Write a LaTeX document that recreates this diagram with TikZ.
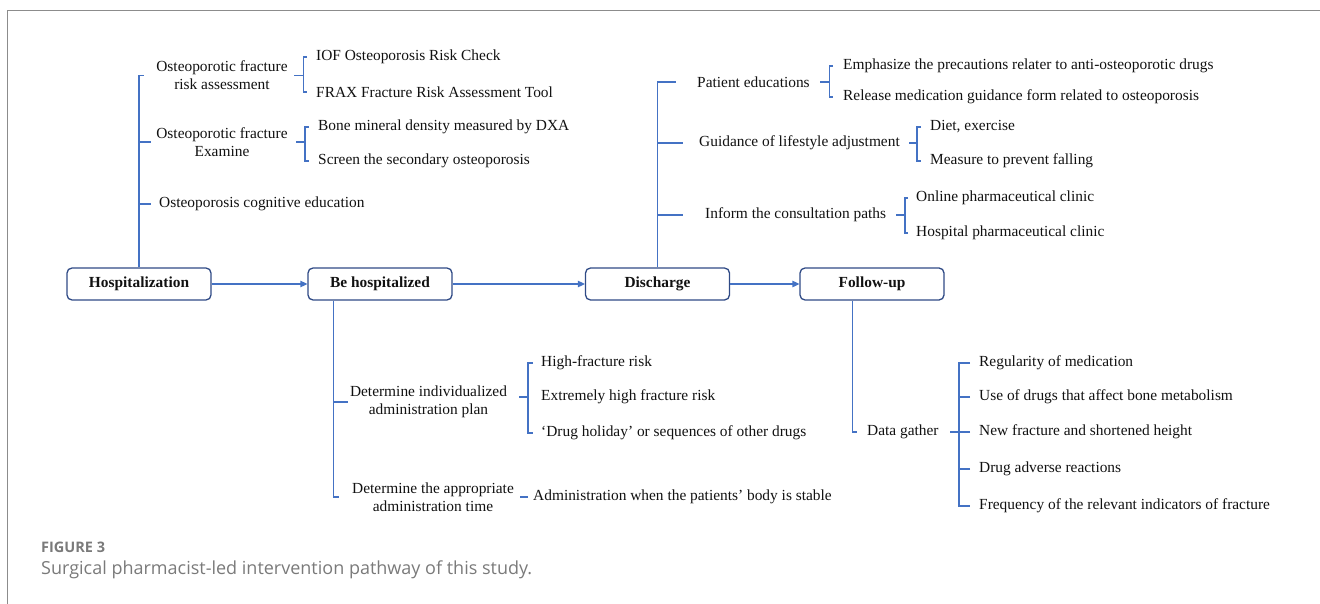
\documentclass[tikz,border=0pt]{standalone}
\usepackage{fontspec}
\setmainfont{Liberation Serif}
\newfontfamily\capfont{Open Sans}
\usetikzlibrary{arrows.meta}
\definecolor{conn}{HTML}{4472C4}
\definecolor{boxc}{HTML}{2F4A85}
\definecolor{framec}{HTML}{8C8C8C}
\definecolor{capc}{HTML}{7A7A7A}
\definecolor{txt}{HTML}{111111}
\begin{document}
\begin{tikzpicture}[x=1pt,y=-1pt,
  every node/.style={font=\fontsize{15.4}{17.8}\selectfont, inner sep=0pt, text=txt},
  stage/.style={draw=boxc, line width=1.3pt, rounded corners=5pt, minimum width=144pt, minimum height=32pt, font=\fontsize{15.4}{17.8}\selectfont\bfseries},
  lbl/.style={anchor=west},
  two/.style={align=center},
  link/.style={draw=conn, line width=1.3pt},
  flow/.style={link, -{Triangle[length=7pt,width=6.5pt]}}
]
\useasboundingbox (0,0) rectangle (1320,604);
\draw[framec, line width=1pt] (7,604) -- (7,11) -- (1320,11);

% stages
\node[stage] (hosp) at (139,284) {Hospitalization};
\node[stage] (beh) at (380,284) {Be hospitalized};
\node[stage] (dis) at (657.5,284) {Discharge};
\node[stage] (fol) at (872,284) {Follow-up};
\draw[flow] (hosp.east) -- (beh.west);
\draw[flow] (beh.east) -- (dis.west);
\draw[flow] (dis.east) -- (fol.west);

% hospitalization branch
\node[two] (h1) at (222,75.5) {Osteoporotic fracture\\risk assessment};
\node[two] (h2) at (222,142) {Osteoporotic fracture\\Examine};
\node[lbl] (h3) at (159,204) {Osteoporosis cognitive education};
\draw[link] (hosp.north) |- ([xshift=-12pt]h1.west);
\draw[link] (hosp.north |- h2.west) -- ([xshift=-5pt]h2.west);
\draw[link] (hosp.north |- h3.west) -- ([xshift=-8pt]h3.west);

\node[lbl] (h11) at (316,57) {IOF Osteoporosis Risk Check};
\node[lbl] (h12) at (316,92) {FRAX Fracture Risk Assessment Tool};
\coordinate (h1x) at ([xshift=-12.5pt]h11.west);
\draw[link] ([xshift=-9pt]h11.west) -- (h11.west -| h1x) |- ([xshift=-9pt]h12.west);
\draw[link] (h1.east -| h1x) -- ++(-9.5,0);

\node[lbl] (h21) at (318,127) {Bone mineral density measured by DXA};
\node[lbl] (h22) at (318,161) {Screen the secondary osteoporosis};
\coordinate (h2x) at ([xshift=-13pt]h21.west);
\draw[link] ([xshift=-9pt]h21.west) -- (h21.west -| h2x) |- ([xshift=-9pt]h22.west);
\draw[link] (h2.east -| h2x) -- ++(-9,0);

% discharge branch
\node[lbl] (d1) at (697,82) {Patient educations};
\node[lbl] (d2) at (699,143) {Guidance of lifestyle adjustment};
\node[lbl] (d3) at (705,215) {Inform the consultation paths};
\draw[link] (dis.north) |- ([xshift=-21pt]d1.west);
\draw[link] (dis.north |- d2.west) -- ([xshift=-16pt]d2.west);
\draw[link] (dis.north |- d3.west) -- ([xshift=-22pt]d3.west);

\node[lbl] (d11) at (843,66) {Emphasize the precautions relater to anti-osteoporotic drugs};
\node[lbl] (d12) at (843,97) {Release medication guidance form related to osteoporosis};
\coordinate (d1x) at ([xshift=-13.5pt]d11.west);
\draw[link] ([xshift=-10pt]d11.west) -- (d11.west -| d1x) |- ([xshift=-10pt]d12.west);
\draw[link] (d1.east -| d1x) -- ++(-10,0);

\node[lbl] (d21) at (930,127) {Diet, exercise};
\node[lbl] (d22) at (930,161) {Measure to prevent falling};
\coordinate (d2x) at ([xshift=-13pt]d21.west);
\draw[link] ([xshift=-9pt]d21.west) -- (d21.west -| d2x) |- ([xshift=-9pt]d22.west);
\draw[link] (d2.east -| d2x) -- ++(-8,0);

\node[lbl] (d31) at (916,198) {Online pharmaceutical clinic};
\node[lbl] (d32) at (916,233) {Hospital pharmaceutical clinic};
\coordinate (d3x) at ([xshift=-11pt]d31.west);
\draw[link] ([xshift=-8pt]d31.west) -- (d31.west -| d3x) |- ([xshift=-8pt]d32.west);
\draw[link] (d3.east -| d3x) -- ++(-9,0);

% be hospitalized branch
\coordinate (bv) at ([xshift=26pt]beh.south west);
\node[two] (b1) at (428.5,402) {Determine individualized\\administration plan};
\node[two] (b2) at (433,497) {Determine the appropriate\\administration time};
\draw[link] (bv) |- ([xshift=-13pt]b2.west);
\draw[link] (bv |- b1.west) -- ([xshift=-2pt]b1.west);

\node[lbl] (b11) at (541,363) {High-fracture risk};
\node[lbl] (b12) at (541,397) {Extremely high fracture risk};
\node[lbl] (b13) at (541,433) {‘Drug holiday’ or sequences of other drugs};
\coordinate (b1x) at ([xshift=-13pt]b11.west);
\draw[link] ([xshift=-8pt]b11.west) -- (b11.west -| b1x) |- ([xshift=-8pt]b13.west);
\draw[link] (b12.west -| b1x) -- ++(-9,0);

\node[lbl] (b21) at (533,497) {Administration when the patients’ body is stable};
\draw[link] ([xshift=-5pt]b21.west) -- ++(-8,0);

% follow-up branch
\coordinate (fv) at ([xshift=53pt]fol.south west);
\node[lbl] (f1) at (867,432) {Data gather};
\draw[link] (fv) |- ([xshift=-10pt]f1.west);

\node[lbl] (f11) at (979,363) {Regularity of medication};
\node[lbl] (f12) at (979,397) {Use of drugs that affect bone metabolism};
\node[lbl] (f13) at (979,432) {New fracture and shortened height};
\node[lbl] (f14) at (979,469) {Drug adverse reactions};
\node[lbl] (f15) at (979,506) {Frequency of the relevant indicators of fracture};
\coordinate (fx) at ([xshift=-20pt]f11.west);
\draw[link] ([xshift=-9pt]f11.west) -- (f11.west -| fx) |- ([xshift=-9pt]f15.west);
\draw[link] ([xshift=-9pt]f12.west) -- (f12.west -| fx);
\draw[link] ([xshift=-9pt]f14.west) -- (f14.west -| fx);
\draw[link] ([xshift=-9pt]f13.west) -- ([xshift=-29pt]f13.west);

% caption
\node[anchor=west, font=\capfont\bfseries\fontsize{14.5}{18}\selectfont, text=capc] (fig) at (41,547) {FIGURE 3};
\node[anchor=west, font=\capfont\fontsize{18}{21}\selectfont, text=capc] (cap) at (41,570) {Surgical pharmacist-led intervention pathway of this study.};
\end{tikzpicture}
\end{document}
